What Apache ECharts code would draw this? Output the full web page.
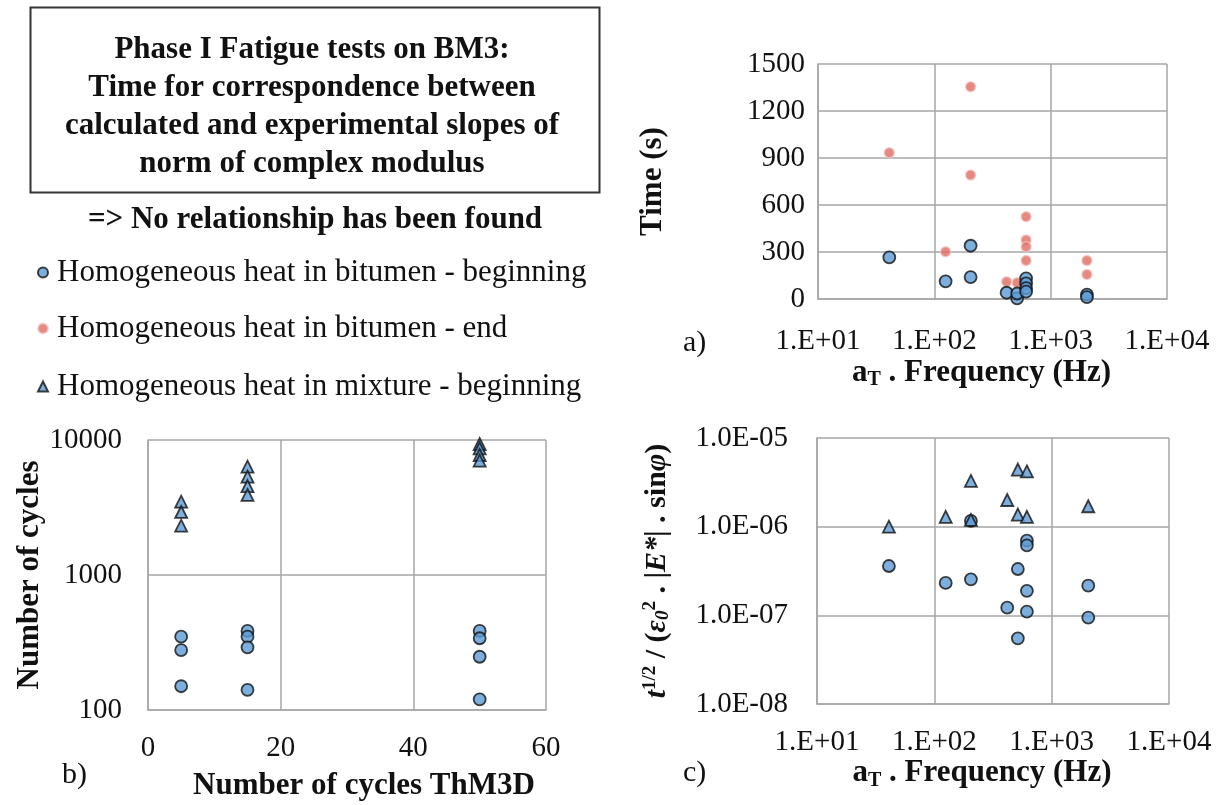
<!DOCTYPE html>
<html>
<head>
<meta charset="utf-8">
<script src="https://cdn.jsdelivr.net/npm/echarts@6/dist/echarts.min.js"></script>
<style>
html,body{margin:0;padding:0;background:#fff;}
#chart{width:1228px;height:805px;}
</style>
</head>
<body>
<div id="chart"></div>
<script>
// ---------- DATA ----------
const seriesNames = [
  'Homogeneous heat in bitumen - beginning',
  'Homogeneous heat in bitumen - end',
  'Homogeneous heat in mixture - beginning'
];
// a) Time (s) vs aT.Frequency (Hz)
const aBeginFreq = [41, 125, 205, 205, 418, 515, 515, 615, 615, 615, 615, 2050, 2050];
const aBeginTime = [266, 113, 340, 140, 40, 4, 35, 132, 100, 70, 47, 28, 12];
const aEndFreq   = [41, 125, 205, 205, 418, 515, 615, 615, 615, 615, 2050, 2050];
const aEndTime   = [934, 302, 1355, 791, 110, 104, 525, 377, 334, 245, 245, 157];
// b) Number of cycles vs Number of cycles ThM3D
const bBeginX = [5, 5, 5, 15, 15, 15, 15, 50, 50, 50, 50];
const bBeginY = [349, 278, 150, 385, 349, 291, 141, 385, 340, 248, 120];
const bMixX   = [5, 5, 5, 15, 15, 15, 15, 50, 50, 50, 50];
const bMixY   = [3490, 2930, 2320, 6340, 5350, 4560, 3920, 9340, 8680, 7740, 7030];
// c) t^1/2/(eps0^2 |E*| sin phi) vs aT.Frequency (Hz)
const cBeginFreq = [41, 125, 205, 205, 418, 515, 515, 615, 615, 615, 615, 2050, 2050];
const cBeginVal  = [3.6e-7, 2.32e-7, 2.55e-7, 1.16e-6, 1.22e-7, 3.33e-7, 5.5e-8, 6.95e-7, 6.16e-7, 1.89e-7, 1.10e-7, 2.16e-7, 9.4e-8];
const cMixFreq   = [41, 125, 205, 205, 418, 515, 515, 615, 615, 2050];
const cMixVal    = [1.0e-6, 1.29e-6, 3.28e-6, 1.19e-6, 2.0e-6, 4.4e-6, 1.37e-6, 4.2e-6, 1.29e-6, 1.7e-6];
// tick labels
const aYTicks = [0, 300, 600, 900, 1200, 1500];
const bXTicks = [0, 20, 40, 60];
const bYTicks = [100, 1000, 10000];

// ---------- STYLE ----------
const FONT = '"Liberation Serif", "Times New Roman", serif';
const GRID_COLOR = '#a6a6a6';
const BLUE = '#5B9BD5';
const RED = '#DE6C62';
const zip = (xs, ys) => xs.map((x, i) => [x, ys[i]]);
const pad2 = n => String(n).padStart(2, '0');

const tickLabel = { fontFamily: FONT, fontSize: 29, color: '#111' };
const nameStyle = { fontFamily: FONT, fontSize: 31, fontWeight: 'bold', color: '#111' };
const axisLine = { show: true, lineStyle: { color: GRID_COLOR, width: 1.5 } };
const splitLine = { show: true, lineStyle: { color: GRID_COLOR, width: 1.5 } };

const freqName = '{a|a}{s|T}{a| . Frequency (Hz)}';
const freqRich = {
  a: { fontFamily: FONT, fontSize: 31, fontWeight: 'bold', color: '#111' },
  s: { fontFamily: FONT, fontSize: 20, fontWeight: 'bold', color: '#111', padding: [14, 0, 0, 0] }
};

function logX(gridIndex, gap) {
  return {
    type: 'log', logBase: 10, gridIndex, min: 10, max: 10000,
    axisLine, splitLine, axisTick: { show: false }, minorTick: { show: false },
    axisLabel: { ...tickLabel, margin: gap,
      formatter: v => '1.E+' + pad2(Math.round(Math.log10(v))) },
    name: freqName, nameLocation: 'middle',
    nameTextStyle: { ...nameStyle, rich: freqRich, padding: [0, 22, 0, 0] }
  };
}

const circleBlue = { color: BLUE, borderColor: '#111', borderWidth: 1.8 };
const triBlue = { color: BLUE, borderColor: '#111', borderWidth: 1.8 };
const redDot = { color: RED, borderColor: 'rgba(240,200,195,0.9)', borderWidth: 1.5 };
const legendText = { fontFamily: FONT, fontSize: 31, color: '#111', padding: [0, 0, 0, 4] };

const option = {
  animation: false,
  backgroundColor: '#fff',
  grid: [
    { left: 818, top: 64, width: 349, height: 235, containLabel: false, outerBoundsMode: 'none' },
    { left: 148, top: 440, width: 398, height: 270, containLabel: false, outerBoundsMode: 'none' },
    { left: 817, top: 438, width: 352, height: 266, containLabel: false, outerBoundsMode: 'none' }
  ],
  xAxis: [
    Object.assign(logX(0, 28), { nameGap: 57 }),
    {
      type: 'value', gridIndex: 1, min: 0, max: 60, interval: 20,
      axisLine, splitLine, axisTick: { show: false },
      axisLabel: { ...tickLabel, margin: 24,
        formatter: v => bXTicks.includes(v) ? String(v) : '' },
      name: 'Number of cycles ThM3D', nameLocation: 'middle', nameGap: 60,
      nameTextStyle: { ...nameStyle, padding: [0, 0, 0, 34] }
    },
    Object.assign(logX(2, 24), { nameGap: 49 })
  ],
  yAxis: [
    {
      type: 'value', gridIndex: 0, min: 0, max: 1500, interval: 300,
      axisLine, splitLine, axisTick: { show: false },
      axisLabel: { ...tickLabel, margin: 13,
        formatter: v => aYTicks.includes(v) ? String(v) : '' },
      name: 'Time (s)', nameLocation: 'middle', nameGap: 150, nameTextStyle: nameStyle
    },
    {
      type: 'log', logBase: 10, gridIndex: 1, min: 100, max: 10000,
      axisLine, splitLine, axisTick: { show: false }, minorTick: { show: false },
      axisLabel: { ...tickLabel, margin: 26,
        formatter: v => { const r = Math.round(v); return bYTicks.includes(r) ? String(r) : ''; } },
      name: 'Number of cycles', nameLocation: 'middle', nameGap: 97, nameTextStyle: nameStyle
    },
    {
      type: 'log', logBase: 10, gridIndex: 2, min: 1e-8, max: 1e-5,
      axisLine, splitLine, axisTick: { show: false }, minorTick: { show: false },
      axisLabel: { ...tickLabel, margin: 29,
        formatter: v => '1.0E-' + pad2(Math.round(-Math.log10(v))) },
      name: '{bi|t}{sup|1/2}{b| / (}{bi|ε}{sub|0}{sup|2}{b| . |}{bi|E*}{b|| . sin}{bi|φ}{b|)}',
      nameLocation: 'middle', nameGap: 143,
      nameTextStyle: {
        ...nameStyle,
        rich: {
          b:  { fontFamily: FONT, fontSize: 30, fontWeight: 'bold', color: '#111' },
          bi: { fontFamily: FONT, fontSize: 30, fontWeight: 'bold', fontStyle: 'italic', color: '#111' },
          sup: { fontFamily: FONT, fontSize: 19, fontWeight: 'bold', color: '#111', padding: [0, 0, 14, 0] },
          sub: { fontFamily: FONT, fontSize: 19, fontWeight: 'bold', fontStyle: 'italic', color: '#111', padding: [12, 0, 0, 0] }
        }
      }
    }
  ],
  legend: [
    { left: 32, top: 252, orient: 'vertical', selectedMode: false, itemWidth: 10, itemHeight: 10,
      data: [{ name: seriesNames[0], icon: 'circle' }], textStyle: legendText },
    { left: 32, top: 308, orient: 'vertical', selectedMode: false, itemWidth: 10, itemHeight: 10,
      data: [{ name: seriesNames[1], icon: 'circle' }], textStyle: legendText },
    { left: 32, top: 366, orient: 'vertical', selectedMode: false, itemWidth: 10, itemHeight: 10,
      data: [{ name: seriesNames[2], icon: 'triangle' }], textStyle: legendText }
  ],
  graphic: [
    { type: 'rect', left: 28, top: 5, shape: { width: 569, height: 185 },
      style: { fill: 'none', stroke: '#333', lineWidth: 2 } },
    { type: 'text', x: 312, y: 107,
      style: { text: 'Phase I Fatigue tests on BM3:\nTime for correspondence between\ncalculated and experimental slopes of\nnorm of complex modulus',
        font: 'bold 31px ' + FONT, fill: '#111', align: 'center', verticalAlign: 'middle', lineHeight: 38 } },
    { type: 'text', x: 315, y: 220,
      style: { text: '=> No relationship has been found', font: 'bold 31px ' + FONT, fill: '#111',
        align: 'center', verticalAlign: 'middle' } },
    { type: 'text', x: 683, y: 343,
      style: { text: 'a)', font: '30px ' + FONT, fill: '#111', align: 'left', verticalAlign: 'middle' } },
    { type: 'text', x: 62, y: 775,
      style: { text: 'b)', font: '30px ' + FONT, fill: '#111', align: 'left', verticalAlign: 'middle' } },
    { type: 'text', x: 683, y: 773,
      style: { text: 'c)', font: '30px ' + FONT, fill: '#111', align: 'left', verticalAlign: 'middle' } }
  ],
  series: [
    { name: seriesNames[1], type: 'scatter', xAxisIndex: 0, yAxisIndex: 0, symbol: 'circle', symbolSize: 10,
      itemStyle: redDot, data: zip(aEndFreq, aEndTime) },
    { name: seriesNames[0], type: 'scatter', xAxisIndex: 0, yAxisIndex: 0, symbol: 'circle', symbolSize: 12,
      itemStyle: circleBlue, data: zip(aBeginFreq, aBeginTime) },
    { name: seriesNames[0], type: 'scatter', xAxisIndex: 1, yAxisIndex: 1, symbol: 'circle', symbolSize: 12,
      itemStyle: circleBlue, data: zip(bBeginX, bBeginY) },
    { name: seriesNames[2], type: 'scatter', xAxisIndex: 1, yAxisIndex: 1, symbol: 'triangle', symbolSize: 12,
      itemStyle: triBlue, data: zip(bMixX, bMixY) },
    { name: seriesNames[0], type: 'scatter', xAxisIndex: 2, yAxisIndex: 2, symbol: 'circle', symbolSize: 12,
      itemStyle: circleBlue, data: zip(cBeginFreq, cBeginVal) },
    { name: seriesNames[2], type: 'scatter', xAxisIndex: 2, yAxisIndex: 2, symbol: 'triangle', symbolSize: 12,
      itemStyle: triBlue, data: zip(cMixFreq, cMixVal) }
  ]
};

const chart = echarts.init(document.getElementById('chart'), null, { renderer: 'canvas' });
chart.setOption(option);
</script>
</body>
</html>
